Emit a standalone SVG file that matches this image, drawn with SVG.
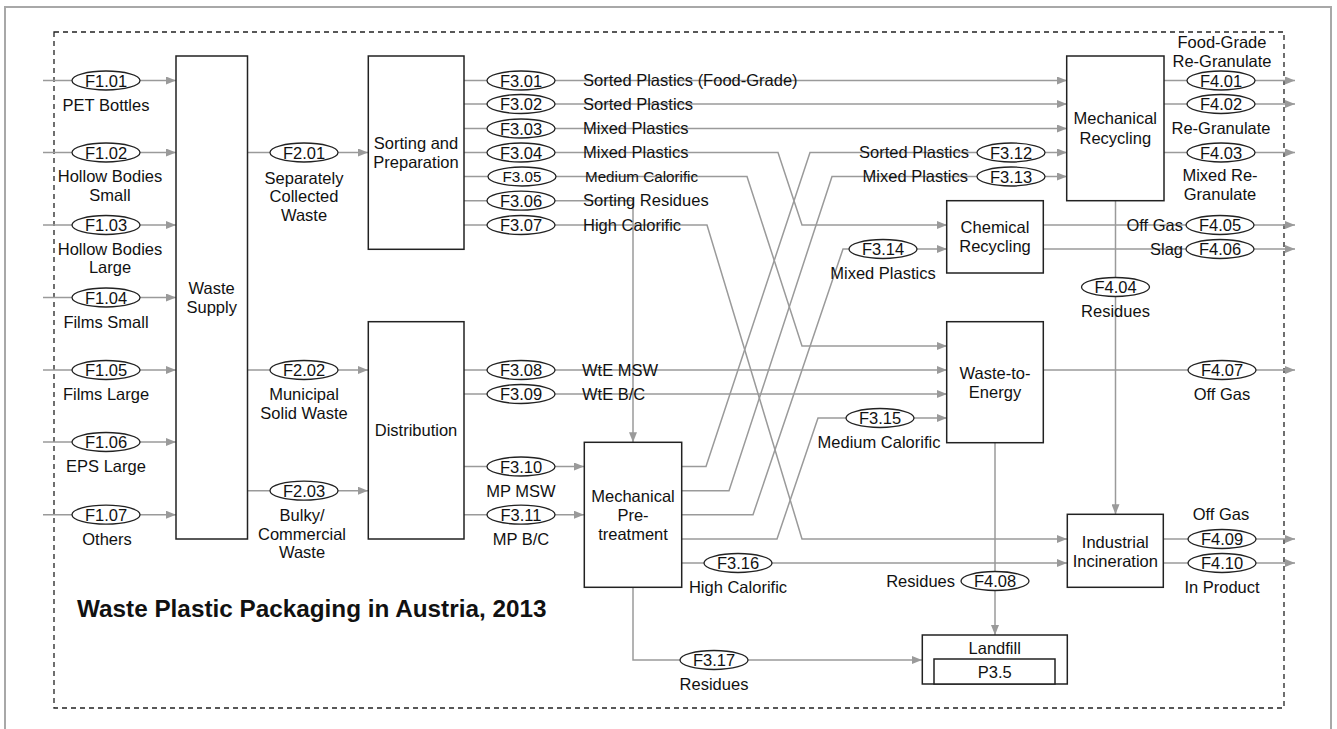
<svg xmlns="http://www.w3.org/2000/svg" width="1337" height="729" viewBox="0 0 1337 729">
<style>
text{font-family:"Liberation Sans",Arial,sans-serif;font-size:16.5px;fill:#111}
.c{text-anchor:middle}
.e{text-anchor:end}
.t{font-size:24.3px;font-weight:bold}
.sm{font-size:15.2px}
.ln{fill:none;stroke:#9a9a9a;stroke-width:1.5;marker-end:url(#ah)}
.box{fill:#fff;stroke:#222;stroke-width:1.5}
.el{fill:#fff;stroke:#222;stroke-width:1.3}
</style>
<defs>
<marker id="ah" viewBox="0 0 10 8" refX="10" refY="4" markerWidth="10" markerHeight="8" markerUnits="userSpaceOnUse" orient="auto"><path d="M0,0L10,4L0,8z" fill="#9a9a9a"/></marker>
</defs>
<rect width="1337" height="729" fill="#fff"/>
<rect x="5" y="7" width="1326" height="740" fill="none" stroke="#a8a8a8" stroke-width="2"/>
<rect x="54" y="32" width="1230" height="676" fill="none" stroke="#222" stroke-width="1.3" stroke-dasharray="5,4"/>

<g id="connectors">
<path class="ln" d="M43,80.5H176"/>
<path class="ln" d="M43,152.5H176"/>
<path class="ln" d="M43,225H176"/>
<path class="ln" d="M43,297.5H176"/>
<path class="ln" d="M43,370H176"/>
<path class="ln" d="M43,442H176"/>
<path class="ln" d="M43,514.7H176"/>
<path class="ln" d="M247,152.5H368"/>
<path class="ln" d="M247,370H368"/>
<path class="ln" d="M247,490.7H368"/>
<path class="ln" d="M464,80.5H1067"/>
<path class="ln" d="M464,104H1067"/>
<path class="ln" d="M464,128.5H1067"/>
<path class="ln" d="M464,152.5H778L802,225H947"/>
<path class="ln" d="M464,176.5H747L802,346H947"/>
<path class="ln" d="M464,200.7H633V442.3"/>
<path class="ln" d="M464,225H707L802,539H1067"/>
<path class="ln" d="M464,370H947"/>
<path class="ln" d="M464,394H947"/>
<path class="ln" d="M464,466.5H584"/>
<path class="ln" d="M464,514.7H584"/>
<path class="ln" d="M682,466.5H706L810,152.5H1067"/>
<path class="ln" d="M682,490.7H729L832,176.5H1067"/>
<path class="ln" d="M682,514.7H753L843,249H947"/>
<path class="ln" d="M682,539H777L818,418H947"/>
<path class="ln" d="M682,563H1067"/>
<path class="ln" d="M633,587.3V660H922"/>
<path class="ln" d="M1164,80.5H1295"/>
<path class="ln" d="M1164,104H1295"/>
<path class="ln" d="M1164,152.5H1295"/>
<path class="ln" d="M1115.5,200.7V514.3"/>
<path class="ln" d="M1043,225H1295"/>
<path class="ln" d="M1043,249H1295"/>
<path class="ln" d="M1043,370H1295"/>
<path class="ln" d="M995,442.7V635"/>
<path class="ln" d="M1163,539H1295"/>
<path class="ln" d="M1163,563H1295"/>
</g>

<g id="waste-supply"><rect class="box" x="176" y="56" width="71.5" height="483"/><text class="c" x="211.7" y="294">Waste</text><text class="c" x="211.7" y="313">Supply</text></g>
<g id="sorting"><rect class="box" x="368.3" y="56" width="95.7" height="193.3"/><text class="c" x="416" y="149">Sorting and</text><text class="c" x="416" y="168">Preparation</text></g>
<g id="distribution"><rect class="box" x="368.3" y="321.7" width="95.7" height="217.3"/><text class="c" x="416" y="436">Distribution</text></g>
<g id="mech-pretreatment"><rect class="box" x="584.3" y="442.3" width="97.4" height="145"/><text class="c" x="633" y="502">Mechanical</text><text class="c" x="633" y="521">Pre-</text><text class="c" x="633" y="539.5">treatment</text></g>
<g id="mech-recycling"><rect class="box" x="1066.7" y="56" width="97.3" height="144.7"/><text class="c" x="1115.3" y="124">Mechanical</text><text class="c" x="1115.3" y="143.5">Recycling</text></g>
<g id="chem-recycling"><rect class="box" x="946.7" y="200.7" width="96.6" height="72.3"/><text class="c" x="995" y="233">Chemical</text><text class="c" x="995" y="252">Recycling</text></g>
<g id="waste-to-energy"><rect class="box" x="946.7" y="321.7" width="96.6" height="121"/><text class="c" x="995" y="379">Waste-to-</text><text class="c" x="995" y="398">Energy</text></g>
<g id="industrial-incineration"><rect class="box" x="1067.3" y="514.3" width="96" height="73"/><text class="c" x="1115.3" y="548">Industrial</text><text class="c" x="1115.3" y="567">Incineration</text></g>
<g id="landfill"><rect class="box" x="922.3" y="635" width="145" height="49"/><rect class="box" x="934" y="659" width="121" height="25"/><text class="c" x="994.7" y="654">Landfill</text><text class="c" x="994.7" y="678">P3.5</text></g>

<g id="flow-labels">
<g id="F1.01"><ellipse class="el" cx="106" cy="80.5" rx="34" ry="9.5"/><text class="c" x="106" y="86.5">F1.01</text><text class="c" x="106" y="110.5">PET Bottles</text></g>
<g id="F1.02"><ellipse class="el" cx="106" cy="152.5" rx="34" ry="9.5"/><text class="c" x="106" y="158.5">F1.02</text><text class="c" x="110" y="182">Hollow Bodies</text><text class="c" x="110" y="200.5">Small</text></g>
<g id="F1.03"><ellipse class="el" cx="106" cy="225" rx="34" ry="9.5"/><text class="c" x="106" y="231">F1.03</text><text class="c" x="110" y="254.5">Hollow Bodies</text><text class="c" x="110" y="273">Large</text></g>
<g id="F1.04"><ellipse class="el" cx="106" cy="297.5" rx="34" ry="9.5"/><text class="c" x="106" y="303.5">F1.04</text><text class="c" x="106" y="327.5">Films Small</text></g>
<g id="F1.05"><ellipse class="el" cx="106" cy="370" rx="34" ry="9.5"/><text class="c" x="106" y="376">F1.05</text><text class="c" x="106" y="400">Films Large</text></g>
<g id="F1.06"><ellipse class="el" cx="106" cy="442" rx="34" ry="9.5"/><text class="c" x="106" y="448">F1.06</text><text class="c" x="106" y="472">EPS Large</text></g>
<g id="F1.07"><ellipse class="el" cx="106" cy="514.7" rx="34" ry="9.5"/><text class="c" x="106" y="520.7">F1.07</text><text class="c" x="107" y="544.5">Others</text></g>
<g id="F2.01"><ellipse class="el" cx="304" cy="152.5" rx="34" ry="9.5"/><text class="c" x="304" y="158.5">F2.01</text><text class="c" x="304" y="183.5">Separately</text><text class="c" x="304" y="202">Collected</text><text class="c" x="304" y="220.5">Waste</text></g>
<g id="F2.02"><ellipse class="el" cx="304" cy="370" rx="34" ry="9.5"/><text class="c" x="304" y="376">F2.02</text><text class="c" x="304" y="400">Municipal</text><text class="c" x="304" y="418.5">Solid Waste</text></g>
<g id="F2.03"><ellipse class="el" cx="304" cy="490.7" rx="34" ry="9.5"/><text class="c" x="304" y="496.7">F2.03</text><text class="c" x="302" y="521">Bulky/</text><text class="c" x="302" y="539.5">Commercial</text><text class="c" x="302" y="558">Waste</text></g>
<g id="F3.01"><ellipse class="el" cx="521" cy="80.5" rx="34" ry="9.5"/><text class="c" x="521" y="86.5">F3.01</text><text x="583" y="86.2">Sorted Plastics (Food-Grade)</text></g>
<g id="F3.02"><ellipse class="el" cx="521" cy="104" rx="34" ry="9.5"/><text class="c" x="521" y="110">F3.02</text><text x="583" y="109.7">Sorted Plastics</text></g>
<g id="F3.03"><ellipse class="el" cx="521" cy="128.5" rx="34" ry="9.5"/><text class="c" x="521" y="134.5">F3.03</text><text x="583" y="134.2">Mixed Plastics</text></g>
<g id="F3.04"><ellipse class="el" cx="521" cy="152.5" rx="34" ry="9.5"/><text class="c" x="521" y="158.5">F3.04</text><text x="583" y="158.2">Mixed Plastics</text></g>
<g id="F3.05"><ellipse class="el" cx="522" cy="176.5" rx="34" ry="9.5"/><text class="c sm" x="522" y="182">F3.05</text><text class="sm" x="585" y="182">Medium Calorific</text></g>
<g id="F3.06"><ellipse class="el" cx="521" cy="200.7" rx="34" ry="9.5"/><text class="c" x="521" y="206.7">F3.06</text><text x="583" y="206.4">Sorting Residues</text></g>
<g id="F3.07"><ellipse class="el" cx="521" cy="225" rx="34" ry="9.5"/><text class="c" x="521" y="231">F3.07</text><text x="583" y="230.7">High Calorific</text></g>
<g id="F3.08"><ellipse class="el" cx="521" cy="370" rx="34" ry="9.5"/><text class="c" x="521" y="376">F3.08</text><text x="582" y="375.7">WtE MSW</text></g>
<g id="F3.09"><ellipse class="el" cx="521" cy="394" rx="34" ry="9.5"/><text class="c" x="521" y="400">F3.09</text><text x="582" y="399.7">WtE B/C</text></g>
<g id="F3.10"><ellipse class="el" cx="521" cy="466.5" rx="34" ry="9.5"/><text class="c" x="521" y="472.5">F3.10</text><text class="c" x="521" y="496.5">MP MSW</text></g>
<g id="F3.11"><ellipse class="el" cx="521" cy="514.7" rx="34" ry="9.5"/><text class="c" x="521" y="520.7">F3.11</text><text class="c" x="521" y="545">MP B/C</text></g>
<g id="F3.12"><ellipse class="el" cx="1011" cy="152.5" rx="34" ry="9.5"/><text class="c" x="1011" y="158.5">F3.12</text><text class="e" x="969" y="158.2">Sorted Plastics</text></g>
<g id="F3.13"><ellipse class="el" cx="1011" cy="176.5" rx="34" ry="9.5"/><text class="c" x="1011" y="182.5">F3.13</text><text class="e" x="968" y="182.2">Mixed Plastics</text></g>
<g id="F3.14"><ellipse class="el" cx="883" cy="249" rx="34" ry="9.5"/><text class="c" x="883" y="255">F3.14</text><text class="c" x="883" y="279">Mixed Plastics</text></g>
<g id="F3.15"><ellipse class="el" cx="880" cy="418" rx="34" ry="9.5"/><text class="c" x="880" y="424">F3.15</text><text class="c" x="879" y="447.5">Medium Calorific</text></g>
<g id="F3.16"><ellipse class="el" cx="738" cy="563" rx="34" ry="9.5"/><text class="c" x="738" y="569">F3.16</text><text class="c" x="738" y="593">High Calorific</text></g>
<g id="F3.17"><ellipse class="el" cx="714" cy="660" rx="34" ry="9.5"/><text class="c" x="714" y="666">F3.17</text><text class="c" x="714" y="690">Residues</text></g>
<g id="F4.01"><ellipse class="el" cx="1221" cy="80.5" rx="34" ry="9.5"/><text class="c" x="1221" y="86.5">F4.01</text><text class="c" x="1222" y="48">Food-Grade</text><text class="c" x="1222" y="67">Re-Granulate</text></g>
<g id="F4.02"><ellipse class="el" cx="1221" cy="104" rx="34" ry="9.5"/><text class="c" x="1221" y="110">F4.02</text><text class="c" x="1221" y="134">Re-Granulate</text></g>
<g id="F4.03"><ellipse class="el" cx="1221" cy="152.5" rx="34" ry="9.5"/><text class="c" x="1221" y="158.5">F4.03</text><text class="c" x="1220" y="181">Mixed Re-</text><text class="c" x="1220" y="200">Granulate</text></g>
<g id="F4.04"><ellipse class="el" cx="1115.5" cy="287" rx="34" ry="9.5"/><text class="c" x="1115.5" y="293">F4.04</text><text class="c" x="1115.5" y="317">Residues</text></g>
<g id="F4.05"><ellipse class="el" cx="1220" cy="225" rx="34" ry="9.5"/><text class="c" x="1220" y="231">F4.05</text><text class="e" x="1183" y="230.7">Off Gas</text></g>
<g id="F4.06"><ellipse class="el" cx="1220" cy="249" rx="34" ry="9.5"/><text class="c" x="1220" y="255">F4.06</text><text class="e" x="1183" y="254.7">Slag</text></g>
<g id="F4.07"><ellipse class="el" cx="1222" cy="370" rx="34" ry="9.5"/><text class="c" x="1222" y="376">F4.07</text><text class="c" x="1222" y="400">Off Gas</text></g>
<g id="F4.08"><ellipse class="el" cx="995" cy="581" rx="34" ry="9.5"/><text class="c" x="995" y="587">F4.08</text><text class="e" x="955" y="587">Residues</text></g>
<g id="F4.09"><ellipse class="el" cx="1222" cy="539" rx="34" ry="9.5"/><text class="c" x="1222" y="545">F4.09</text><text class="c" x="1221" y="520">Off Gas</text></g>
<g id="F4.10"><ellipse class="el" cx="1222" cy="563" rx="34" ry="9.5"/><text class="c" x="1222" y="569">F4.10</text><text class="c" x="1222" y="593">In Product</text></g>
</g>

<text class="t" x="77" y="617">Waste Plastic Packaging in Austria, 2013</text>
</svg>
